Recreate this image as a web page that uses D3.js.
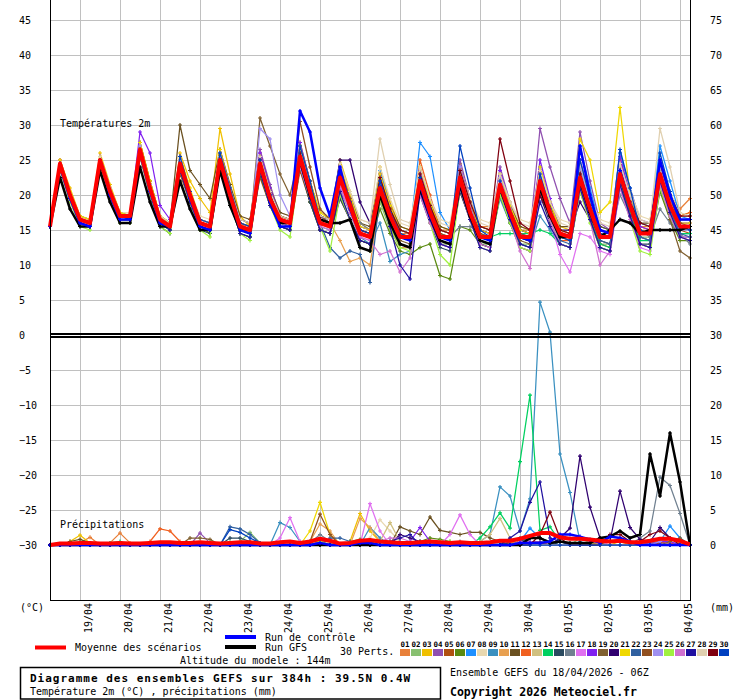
<!DOCTYPE html>
<html>
<head>
<meta charset="utf-8">
<script src="https://cdn.jsdelivr.net/npm/d3@7"></script>
<style>
body { margin: 0; background: #fff; }
svg text { font-family: "DejaVu Sans Mono", monospace; fill: #000; }
</style>
</head>
<body>
<div id="chart"></div>
<script>
// ---- tick labels ----
var dayLabels = ["19/04","20/04","21/04","22/04","23/04","24/04","25/04","26/04","27/04","28/04","29/04","30/04","01/05","02/05","03/05","04/05"];
var dayHours = [18,42,66,90,114,138,162,186,210,234,258,282,306,330,354,378];
var leftTicks = [45,40,35,30,25,20,15,10,5,0,-5,-10,-15,-20,-25,-30];
var tempGrid = [45,40,35,30,25,20,15,10,5];
var precipGrid = [-5,-10,-15,-20,-25,-30];
var rightTempTicks = [75,70,65,60,55,50,45,40,35];
var rightPrecipTicks = [30,25,20,15,10,5,0];
var memberNames = ["01","02","03","04","05","06","07","08","09","10","11","12","13","14","15","16","17","18","19","20","21","22","23","24","25","26","27","28","29","30"];
var memberColors = ["#e8803a","#88c070","#f0c000","#9050b0","#b05010","#5a8a10","#1e90ff","#e8d8b0","#3a90c0","#e8a050",
                    "#6a5020","#f06020","#d0c080","#00d060","#2a4a60","#708090","#e070f0","#8020f0","#806030","#300070",
                    "#f0d800","#3060a0","#905020","#a090f0","#a0f040","#d070d0","#2010a0","#e0d0b0","#800010","#0040c0"];
var stepHours = 6;

// ---- temperature 2m (°C), one value every 6h from 18/04 06Z ----
var tempMean = [15.5, 24.5,20,16.5,16, 25,20.5,17,17, 26.5,21,16.5,15.5, 24.5,20,16,15.5, 25,20,15.5,15, 24.5,19.5,16.5,16, 25.5,20.5,16,15.5, 22.5,18.5,14.5,14, 21,17,14,14, 22,17.5,14,14, 22.5,17.5,14,14, 21.5,17.5,14,14, 22,17.5,14.5,14, 22.5,18,14,14, 23,18.5,14.5,14.5, 23,18.5,15.5,15.5];
var tempGFS = [15.5, 22.5,18,15.5,15.5, 23.5,19,16,16, 24,19,15.5,15.5, 22,18,15,15, 23.5,18.5,15,15, 24,19,16,16, 25,20,16.5,16, 16,16.5,12.5,12, 20,16,13,12.5, 21,17,13.5,13, 21.5,17,13.5,13, 21,17,14,13.5, 21,17,14,14, 22,17.5,14,15, 16.5,16,14.5,15, 15,15,15,15.5];
var tempCtrl = [15.5, 24,19.5,16,15.5, 25,20,16.5,16.5, 26,20.5,16,15.5, 24.5,19.5,15.5,15, 25,20,15,14.5, 24,19,15.5,15.5, 32,29,21,17, 24,18,14.5,14, 21,17,14,13.5, 21.5,17,14,13.5, 22,17.5,14,13.5, 21.5,17,14,13.5, 22,17.5,14.5,14, 27,20,15,14.5, 23.5,18.5,14.5,14.5, 25,20,16.5,16.5];
var t01 = [15.5, 25,20.5,16.5,16, 25.5,21,17.5,17.5, 27,21.5,16.5,15.5, 25.5,20.5,16,15.5, 26.5,21,16,15.5, 23.5,19,16.5,16, 26.5,21.5,16.5,16, 24,19.5,14.5,14, 22,17.5,14.5,14.5, 24,19,15,15, 23.5,18.5,15.5,15.5, 22,18,15,15, 24,19,15,14.5, 25,19.5,14.5,14.5, 24.5,19.5,15.5,15.5, 24,20,18,19.5];
var t02 = [15.5, 24,19.5,16,15.5, 24.5,20,16.5,16.5, 26,20.5,16.5,15.5, 23.5,19,15.5,15, 24,19,15,14.5, 25,19.5,16,15.5, 26.5,21,16,15.5, 21,17.5,13.5,13, 19,15,12.5,12.5, 20.5,16.5,13,13, 21.5,16.5,13,13, 21,16.5,13,13, 22,17.5,14,13.5, 21.5,17,13,13, 21.5,17.5,14,14, 21.5,17.5,15,15];
var t03 = [15.5, 25,21,17,16.5, 26,21.5,17.5,17, 27.5,22,17,16, 26,22,19.5,17.5, 29.5,23,17,15.5, 26,21,17,16.5, 27.5,22,17,16, 25,20.5,16,15, 24,19,15.5,15, 23.5,19,15.5,15, 24.5,19.5,15.5,15, 23,19,15.5,15, 23,18.5,15.5,15, 24.5,19.5,15.5,15, 25,20,16,15.5, 24.5,20,17,17.5];
var t04 = [15.5, 24.5,20,16.5,16, 25.5,21,17,17, 27,21.5,16.5,16, 25,20.5,16.5,16, 26,21,16,15.5, 26.5,21.5,17,16.5, 27,22,17,16, 24,19.5,15,14.5, 23,18.5,15,14.5, 24,19,15,14.5, 25,19.5,15,14.5, 24,19,15,14.5, 29.5,24,19.5,16, 29,22,16,15, 26,21,16.5,16, 25,20.5,16.5,16.5];
var t05 = [15.5, 24,19.5,16,15.5, 24.5,20,16.5,16.5, 25.5,20.5,16,15, 23,19,15.5,15, 23.5,19,15,14.5, 22.5,18.5,15.5,15, 23.5,19,15,14.5, 19.5,16.5,13.5,13, 19.5,16,13,12.5, 21,16.5,13,12.5, 20.5,16.5,13,12.5, 20,16,12.5,12, 20.5,16.5,13,12.5, 21,17,13,12.5, 22.5,18,14,13.5, 22,18,15,14.5];
var t06 = [15.5, 24,19.5,16,15.5, 24.5,20,16.5,16.5, 26,20.5,16,15, 24,19.5,15.5,14.5, 24,19,14.5,14, 23,18.5,15.5,15, 24,19,15,14.5, 20,16.5,13.5,13, 18,14.5,12,11.5, 12.5,13,8.5,8, 15.5,15,13,12.5, 20,16.5,13,12.5, 21,16.5,13,12.5, 21,16.5,12.5,12, 21.5,17,13,12.5, 20.5,16.5,13.5,13.5];
var t07 = [15.5, 24.5,20,16.5,16, 25.5,21,17,17, 27,21.5,16.5,15.5, 25.5,20.5,16,15.5, 26,21,16,15.5, 25.5,20.5,17,16.5, 27,21.5,16.5,16, 24.5,20,15.5,15, 23.5,18.5,15,14.5, 27.5,25.5,17.5,15, 24,19,15,14.5, 23,18.5,15,14.5, 24,19,15,14.5, 27,21,15.5,15, 26,21,16,15.5, 27,22,17,16.5];
var t08 = [15.5, 24.5,20.5,17,16.5, 25,21,17.5,17.5, 26,21,17,16, 24.5,20.5,17,16.5, 25.5,21,16.5,16, 25.5,21,17.5,17, 26,21.5,17.5,17, 24,20.5,16.5,16, 24,19.5,16,15.5, 23.5,19.5,16.5,16, 24,19.5,16.5,16, 23,19,16.5,16, 23,19,16.5,16, 24,19.5,16.5,16, 25,20.5,17,16.5, 25,20.5,17,17];
var t09 = [15.5, 24.5,20,16.5,16, 25,20.5,17,16.5, 26,20.5,16,15, 24,19.5,15.5,15, 24.5,19.5,15,14.5, 23.5,18.5,15.5,15, 24.5,19.5,15.5,15, 21.5,17.5,14,13, 16,10.5,11.5,12, 20.5,16.5,13.5,13, 21.5,17,13.5,13, 19.5,16,13,12.5, 17,15,13,12.5, 21,17,13.5,13, 22.5,18,14,13.5, 23,18.5,14.5,14.5];
var t10 = [15.5, 24.5,20,16.5,16, 25,20.5,17,17, 27,21.5,17,16, 25,20.5,16,15.5, 25.5,20.5,16,15, 25,20,17,16.5, 26,21,16.5,16, 13.5,10.5,11,10, 19.5,15.5,12.5,12.5, 22.5,18,14.5,14, 24,19,15,14.5, 22.5,18,14.5,14, 23,18.5,15,14.5, 23.5,19,15,14.5, 24,19.5,15.5,15, 24.5,20,16.5,16.5];
var t11 = [15.5, 25,20.5,17,16.5, 25,21,17.5,17, 27.5,22,17,16, 30,23.5,21.5,19.5, 26.5,21.5,17,16.5, 26,21,17.5,17, 27,22,17,16.5, 24,20,16,15.5, 22.5,18.5,15.5,15, 23.5,19,15.5,15, 23,18.5,15.5,15, 22.5,18.5,15.5,15, 22.5,18.5,15.5,15.5, 23.5,19,15.5,15, 23.5,19.5,16,16, 24,19.5,16.5,16.5];
var t12 = [15.5, 24.5,20,16.5,16, 25.5,21,17,17, 26.5,21,16.5,15.5, 25.5,20.5,16,15.5, 25,20,15.5,15, 23.5,19,16,15.5, 25,20,16,15.5, 23.5,19,15,14.5, 22,17.5,14,13.5, 25,20,15,14.5, 22.5,18,14.5,14, 21,17,14,13.5, 20.5,16.5,13.5,13.5, 24,19,14.5,14, 25,20,15.5,15, 24.5,20,17,17.5];
var t13 = [15.5, 24.5,20.5,17,16.5, 25.5,21,17.5,17, 26.5,21,16.5,15.5, 24,19.5,16,15.5, 24.5,19.5,15.5,15, 25,20,16.5,16, 26.5,21,16.5,16, 22,18,15,14.5, 21.5,17.5,14.5,14, 21,17,14.5,14, 21.5,17.5,14.5,14, 20.5,17,14.5,14, 21.5,17.5,14.5,14, 22,18,14.5,14, 24,19,15,15, 23.5,19,15.5,15.5];
var t14 = [15.5, 24,19.5,16,15.5, 25,20.5,17,16.5, 26,20.5,16,15, 23.5,19,15.5,15, 24,19,15,14.5, 25,20,16,15.5, 25.5,20.5,16,15.5, 21,17.5,14.5,14, 20,16.5,14,13.5, 21.5,17,14,13.5, 21,17,14,14, 14.5,14.5,14.5,14.5, 15,14.5,13,12.5, 21,16.5,13,12.5, 22,17.5,13.5,13.5, 22,17.5,14.5,14.5];
var t15 = [15.5, 24,19.5,16,15.5, 24.5,20,16.5,16.5, 25.5,20,15.5,14.5, 23.5,19,15,14.5, 23.5,19,14.5,14, 23,18.5,15.5,15, 24,19,15,14.5, 19.5,16.5,13.5,13, 19.5,16,13,12.5, 20,16,12.5,12, 20.5,16.5,13,12.5, 20,16,12.5,12, 20,16,13,12.5, 20.5,16.5,12.5,12, 21.5,17,13,13, 21,17,14,14];
var t16 = [15.5, 24.5,20,16.5,16, 25,20.5,17,17, 26.5,21,16.5,15.5, 24,19.5,16,15.5, 24.5,20,16,15.5, 24,19.5,16.5,16, 24.5,20.5,17,16.5, 20,19,16,15, 21.5,17.5,15,14.5, 22,17.5,14.5,14, 15.5,15.5,14.5,14, 21,17,14,13.5, 22.5,18,14.5,14, 23,18.5,14.5,14, 20,17,15,14, 18,16,14.5,13];
var t17 = [15.5, 25,20.5,16.5,16, 25.5,21,17,17, 27,21.5,16.5,15.5, 25,20,16,15.5, 25.5,20.5,16,15.5, 26,20.5,16.5,16, 24,19.5,16,15.5, 21.5,17.5,14,13.5, 19.5,16,13,12.5, 20.5,16.5,13,12.5, 21,16.5,12.5,12, 20.5,16.5,12.5,12, 21,16.5,11.5,9, 14.5,14,12,11.5, 21,17,12.5,12, 22,17.5,14,14];
var t18 = [15.5, 24.5,20,16.5,16, 25.5,21,17,17, 29,26,18.5,16.5, 25.5,20.5,16,15.5, 25,20.5,16,15.5, 26,21,17,16.5, 27.5,22,17,16, 24.5,20,15.5,15, 23,18.5,15,14.5, 23.5,18.5,15,14.5, 24,19,15,14.5, 23.5,18.5,14.5,14, 25,19.5,15,14.5, 25,19.5,15,14.5, 25.5,20,15.5,15, 25,20,16,16];
var t19 = [15.5, 24.5,20,16.5,16, 25,20.5,17,17, 26,21,16.5,15.5, 24.5,20,16,15.5, 25.5,20.5,15.5,15, 31,27,23,20, 26,21,17,16, 22.5,18.5,15,14.5, 20,16.5,13.5,13, 21,16.5,13.5,13, 22,17.5,14,13.5, 21,17,13.5,13, 22,17.5,14,13.5, 21.5,17,13.5,13, 21.5,17,13,12.5, 21.5,16.5,12,11];
var t20 = [15.5, 24.5,20,16.5,16, 25,20.5,17,17, 26,21,16.5,15.5, 24.5,20,16.5,16, 25.5,21,16.5,16, 24,20,17,16.5, 26,21,17,16.5, 25,25,19,16, 21.5,18,15,14.5, 22,18,15,14.5, 22.5,18,15,14.5, 22,18,15,14.5, 20,16.5,15,15, 19,16.5,15,14.5, 22,18,15,14.5, 22,18,15.5,15];
var t21 = [15.5, 25,20.5,17,16.5, 25.5,21,17.5,17, 27.5,22,17,16, 25.5,21,16.5,16, 26.5,21,16,15.5, 25.5,20.5,17,16.5, 27,22,17.5,16.5, 24.5,20,15.5,15, 23,18.5,15,14.5, 24,19,15,14.5, 23.5,19,15,14.5, 23,18.5,15,14.5, 24,19,15,14.5, 28,25,17.5,19, 32.5,20,15,14.5, 24.5,20,16,16];
var t22 = [15.5, 24,19.5,16,15.5, 24.5,20,16.5,16.5, 26,20.5,16,15, 24,19.5,15.5,15, 24.5,19.5,15,14.5, 23.5,19,16,15.5, 24.5,20,16,12.5, 11,12,11.5,7.5, 20,16,13,12.5, 20.5,16.5,13,12.5, 21,17,13.5,13, 20.5,16.5,13,12.5, 21,17,13.5,13, 22,17.5,13.5,13, 22.5,18,14,13.5, 22.5,18,14.5,14];
var t23 = [15.5, 24.5,20,16.5,16, 25,20.5,17,17, 26.5,21,16.5,15.5, 25,20.5,16.5,16, 26,21,16,15.5, 25.5,20.5,17,16.5, 30.5,24,18,16.5, 23.5,19.5,15,14.5, 22,17.5,14.5,14, 22.5,18,14.5,14, 22.5,18,14.5,14, 22,18,14.5,14, 22.5,18,14.5,14, 23.5,19,14.5,14, 24,19.5,15,14.5, 24,19.5,16,15.5];
var t24 = [15.5, 24.5,20,16.5,16, 25,20.5,17,17, 27,21.5,16.5,15.5, 25,20.5,16,15.5, 25.5,20.5,15.5,15, 29.5,28,20,17, 25.5,20.5,16,15.5, 23,19,14.5,14, 22,17.5,14,13.5, 23,18,14,13.5, 24,18.5,14,13.5, 22.5,18,14,13.5, 23,18,14.5,14, 24,19,14.5,14, 24.5,19.5,14.5,14.5, 24,19,15,15];
var t25 = [15.5, 23.5,19,15.5,15, 24,19.5,16,16, 25.5,20,15.5,14.5, 23.5,19,15,14, 24,19,14.5,13.5, 23.5,18.5,15,14, 24.5,19.5,15.5,12, 20,16.5,12.5,12, 19.5,15.5,12.5,12, 21,16,11.5,10, 21,16.5,12.5,12, 20,16,12.5,12, 21,16.5,13,12.5, 20.5,16,12.5,12, 21.5,16.5,12,11.5, 21,17,14,13.5];
var t26 = [15.5, 24.5,20,16.5,16, 25,20.5,17,17, 26,20.5,16,15.5, 24.5,20,16,15.5, 24.5,19.5,15,14.5, 24,19,16,15.5, 25,20,15.5,15, 21,17.5,14,13.5, 11.5,12,9,11, 20,16,13,12.5, 21,16.5,13,12.5, 21,16.5,12,9.5, 20.5,16.5,13,12.5, 21,16.5,10,12, 21,16.5,13,12.5, 21.5,17,14,13.5];
var t27 = [15.5, 24,19.5,16,15.5, 25,20.5,17,16.5, 26,20.5,16,15, 23.5,19,15.5,15, 24,19,14.5,14, 23.5,18.5,15.5,15, 24.5,19.5,15,14.5, 20.5,16.5,13.5,13, 20,15.5,10,8, 20.5,16.5,13,12.5, 21,16.5,12.5,12, 21,16.5,13,12.5, 19,15.5,13,12.5, 21,16.5,12.5,12, 21.5,17,13,12.5, 22,17.5,14,13.5];
var t28 = [15.5, 24.5,20,16.5,16, 25.5,21,17,17, 26.5,21,17,16, 25,20.5,16.5,16, 26,21,16.5,16, 25.5,20.5,17,16.5, 26,21,17,16.5, 24.5,20.5,16.5,16, 28,21.5,16.5,16, 24,19.5,16,15.5, 23.5,19,16,15.5, 23,19,16,15.5, 23.5,19,16,15.5, 24.5,19.5,16,15.5, 24.5,20,16.5,16, 29.5,24,17.5,17];
var t29 = [15.5, 24.5,20,16.5,16, 25,20.5,17,17, 26.5,21,16.5,15.5, 24,19.5,16,15.5, 24.5,19.5,15.5,15, 25,20,16.5,16, 26,21,16.5,16, 23,19,15,14.5, 22.5,18,15,14.5, 23,18.5,15,14.5, 23.5,19,15.5,15, 28,22,16,15, 20,17,15,14.5, 23,18.5,15,14.5, 23.5,19,16,15.5, 24.5,20,17,17];
var t30 = [15.5, 24.5,20,16.5,16, 25,20.5,17,17, 26.5,21,16.5,15.5, 25.5,20.5,16.5,16, 26,21,16,15.5, 25,20,16.5,16, 27,22,16.5,16, 23.5,19,15,14.5, 22,17.5,14.5,14, 22.5,18,14,13.5, 27,21,15,14, 22,17.5,14,13.5, 23,18,14,13.5, 25,19.5,14.5,14, 26.5,21,15,14.5, 26,20.5,15.5,15];
var tempMembers = [t01,t02,t03,t04,t05,t06,t07,t08,t09,t10,t11,t12,t13,t14,t15,t16,t17,t18,t19,t20,t21,t22,t23,t24,t25,t26,t27,t28,t29,t30];

// ---- precipitation (mm / 6h) ----
var precipMean = [0, .2,.2,.3,.3, .2,.2,.3,.2, .2,.3,.4,.4, .3,.3,.4,.3, .2,.3,.4,.4, .2,.2,.4,.5, .3,.5,.9,.6, .2,.3,.6,.7, .5,.4,.3,.3, .4,.5,.4,.3, .4,.3,.3,.4, .6,.6,.9,1.3, 1.7,1.7,1.1,.9, .9,.8,.6,.5, .6,.4,.4,.6, .9,.9,.6,.1];
var precipGFS = [0, 0,0,0,0, 0,0,0,0, 0,0,0,0, 0,0,0,0, 0,0,0,0, 0,0,0,0, 0,0,0,0, 0,0,0,0, 0,0,0,0, 0,0,0,0, 0,0,0,0, 0,0,0,1, 1,0.3,0.5,0.3, 0.3,0.3,1,1.2, 2,1,1.5,13, 7,16,9,0];
var precipCtrl = [0, 0,0,0,0, 0,0,0,0, 0,0,0,0, 0,0,0,0, 0,0,0,0, 0,0,0,0, 0,0,0.3,0, 0,0,0.3,0.3, 0,0,0,0, 0,0,0,0, 0,0,0,0, 0,0,0.3,0.3, 0.3,0.5,1.5,1.5, 1.2,0.8,0.3,1.2, 1,0.5,0,0, 0,0,0,0];
var p01 = [0, 0,0,0.3,1.1, 0,0.3,1.7,0.3, 0,0,0,0, 0,0,0,0, 0,0,0.3,0, 0,0,0,0, 0,0.5,0.8,0.3, 0,0,0.5,0.3, 0,0,0,0, 0,0,0,0, 0,0,0,0, 0,0.3,0.5,0.3, 0.5,0,0,0, 0,0.3,0,0, 0,0,0.5,0, 0.5,0.8,0.3,0];
var p02 = [0, 0,0,0,0, 0,0,0,0, 0,0,0,0, 0,0,0,0, 0,0.5,0.5,1.8, 0.3,0,0,0, 0,0,0,0, 0,0,0,0, 0,0,0,0, 0,0,0,0, 0.3,0,0,0, 0,0,0.3,0.5, 0.5,0.3,0,0, 1,0.3,0,0, 0,0,0,0, 0.3,0.5,0,0];
var p03 = [0, 0,0.5,1.4,0.3, 0,0,0,0, 0,0,0,0, 0,0,0,0, 0,0,0,0, 0,0,0,0, 0,0.3,0.8,0, 0,0.5,4.5,2, 0.5,0,0,0, 0,0,0,0, 0,0,0,0, 0,0,0.5,0.3, 0.3,0,0,0, 0,0,0,0, 0.5,0,0,0, 0.8,0.3,0,0];
var p04 = [0, 0,0,0,0, 0,0,0,0, 0,0,0,0, 0,0,1.7,0.3, 0,0,0,0, 0,0,0,0, 0,0,0.5,0, 0,0,0,0, 0,0,0,0, 0,0,0,0, 0,0,0,0, 0,0,0,0.5, 0.5,0,0,0, 0,0,0,0, 0,0,0,0.3, 0.5,0.3,0,0];
var p05 = [0, 0,0,0,0, 0,0,0,0, 0,0,0,0, 0,0,0,0, 0,0,0,0, 0,0,0,0, 0,0,0.3,0.3, 0,0,0,0, 0,0,0,0, 0,0,0,0, 0,0,0,0, 0,0,0.3,0.3, 0.3,0,0,0, 0,0.3,0.3,0, 0,0,0,0, 0.3,0.3,0,0];
var p06 = [0, 0,0,0,0, 0,0,0,0, 0,0,0,0, 0,0,0,0, 0,0,0,0, 0,0,0,0, 0,0,0.5,0.3, 0,0.5,0.8,0.5, 0,0,0,0, 0.5,1,0.8,0.5, 0.3,0,0,0, 0,0,0,0, 0,0,0,0, 0,0,0,0, 0,0,0,0, 0,0,0,0];
var p07 = [0, 0,0,0,0, 0,0,0,0, 0,0,0,0, 0,0,0,0, 0,0,0,0, 0,0,0,0, 0,0,0,0, 0,0,0,0, 0,0,0,0, 0,0,0,0, 0,0,0,0, 0,0,0.5,2.4, 1,0.5,0,0, 0,0,0,0, 0,0,0,0, 0.5,2.7,1,0];
var p08 = [0, 0,0,0,0, 0,0,0,0, 0,0,0,0, 0,0,0,0, 0,0,0,0, 0,0,0,0, 0,0,0.5,0.3, 0,0,0.5,1, 3.6,2,0.5,0, 0,0,0,0, 0,0,0,0, 0,0,0,0, 0,0,0,0, 0,0,0,0, 0,0,0,0, 0,0,0,0];
var p09 = [0, 0,0,0,0, 0,0,0,0, 0,0,0,0, 0,0,0,0, 0,0,0,0, 0,0,3.2,2.5, 0.5,0,0,0, 0,0,0,2.5, 1,0,0,0, 0,0,0,0, 0,0,0.5,1.5, 8.3,7,2,6.6, 34.7,30.4,13,7.5, 0.5,0,0,0, 0,0,0,0, 0,0,0,0];
var p10 = [0, 0,0,0,0, 0,0,0,0, 0,0,0,0, 0,0,0,0, 0,0,0,0, 0,0,0,0, 0,0.5,3,2, 0,0,3.8,2.5, 0.5,0,0,0, 0,0,0,0, 0,0,0,0, 0,0,0,0, 0,0,0,0, 0,0,0,0, 0,0,0,0, 0,0.3,0,0];
var p11 = [0, 0,0.5,0.8,0.3, 0,0,0,0, 0,0,0,0, 0,0,0,0, 0,0,0,0, 0,0,0,0, 0,0,0.5,0, 0,0,0,0, 0,0,2.6,2, 1.5,4,2.1,1.8, 1.5,1.8,1.8,1, 0.5,0,0,0, 0,0,0,0, 0,0,0,0, 0,0,0,0, 0,0,0,0];
var p12 = [0, 0,0,0,0, 0,0,0,0, 0,0.5,2.3,2, 0.5,0,0,0, 0,0,0,0, 0,0,0,0, 0,0,0,0, 0,0,0,0, 0,0,0,0, 0,0,0,0, 0,0,0,0, 0,0,0,0, 0,0,0,0, 0.3,0,0,0, 0,0,0,0, 0.5,0.3,0,0];
var p13 = [0, 0,0,0,0, 0,0,0,0, 0,0,0,0, 0,0,0,0, 0,0,0,0, 0,0,0,0, 0,0,0,0, 0,0,0,0, 0.5,3.2,0.5,0, 0,0,0,0, 0,0,0.5,1.5, 3.8,1,0,0, 0,0,0,0, 0,0,0,0, 0,0,0,0, 0,0,0,0];
var p14 = [0, 0,0,0,0, 0,0.3,0.5,0, 0,0,0,0, 0,0,0,0, 0,0,0,0, 0,0,0,0, 0,0,0,0, 0,0,0,0, 0,0,0,0, 0,0,0,0, 0,0,1,2.6, 4.6,2.4,11.9,21.4, 2.1,2.6,0.5,0, 0,0,0,0, 0,0,0,0, 0,0,0,0];
var p15 = [0, 0,0,0,0, 0,0,0,0, 0,0,0,0, 0,0,0,0, 0,1,1,0.5, 0,0,0,0, 0,0,0,0, 0,0,0,0, 0,0,0,0, 0,0,0,0, 0,0,0,0, 0,0,0.5,1, 1,0.5,0,0, 0,0,0,0, 0,0,0,0, 0,0,0,0];
var p16 = [0, 0,0,0,0, 0,0,0,0, 0,0,0,0, 0,0,0,0, 0,0,0,0, 0,0,0,0, 0,0.3,1.5,0.5, 0,0,0,0, 0,0,0,0, 0,0,0,0, 0.5,0,0,0, 0,0,0,0, 0,0,0,0, 0,0,0,0, 0,0,1,2, 9.7,8.5,4.5,0];
var p17 = [0, 0,0,0,0, 0,0,0,0, 0,0,0,0, 0,0,0,0, 0,0,0,0, 0,0,1,3.9, 0.5,0,0,0, 0,0,0,5.9, 2,0,0,0, 0,0,0,1.5, 4.3,1.5,0,0, 0,0,0,0, 0,0,0,0, 0,0,0,0, 0,0,0,0, 0,0.5,0,0];
var p18 = [0, 0,0,0,0, 0,0,0,0, 0,0,0,0, 0,0,0,0, 0,0,0,0, 0,0,0,0, 0,0,0.5,0, 0,0,0,0, 0,0,0.5,0.5, 2.5,0.5,0,0, 0,0,0,0, 0,0,0,0, 0,0,0,0, 0,0,0,0, 0,0,0,0, 0.5,0.5,0,0];
var p19 = [0, 0,0,0,0, 0,0,0,0, 0,0,0,0, 0,1,1,0.8, 0,0,0,0, 0,0,0,0, 0,0,0,0, 0,0,0,0, 0,0,0,0, 0,0,0,0, 0,0,0,0, 0,0,0,0, 0,0,0,0, 0,0,0,0, 0,0,0,0, 0,0.5,1,0];
var p20 = [0, 0,0,0,0, 0,0,0,0, 0,0,0,0, 0,0,0,0, 0,0,0,0, 0,0,0,0, 0,0,0,0, 0,0,0,0, 0,0,1.5,1, 0.5,0,0,0, 0,0,0,0, 0,0,0,0, 0,0,1,2.4, 12.7,5.4,1,0.5, 7.7,2.5,0.8,0.5, 2.5,1,0.5,0];
var p21 = [0, 0,0,0,0, 0,0,0,0, 0,0,0,0, 0,0,0,0, 0,0,0,0, 0,0,0,0, 0,2,6.1,1.5, 0,0,0,0, 0,0,0,0, 0,0,0,0, 0,0,0,0, 0,0,0,0, 0,0,0,0, 0,0,0,0, 0,0,0,0, 0,0,0,0];
var p22 = [0, 0,0,0,0, 0,0,0,0, 0,0,0,0, 0,0,0,0, 0,2.6,2.3,1.5, 0.3,0,0,0, 0,0,0,1, 1,0.5,0,0, 0,0,0,0, 0,0,0,0, 0,0,0,0, 0,0.5,1,0.5, 0,0,0,0, 0,0,0,0, 0,0,0,0, 0,0,0,0];
var p23 = [0, 0,0,0,0, 0,0,0,0, 0,0,0,0, 0,0,0,0, 0,0,0,0, 0,0,0,0, 0,0.5,4.4,1.5, 0,0,0,0, 0,0,0,0, 0,0,0,0, 0,0,0,0, 0,0,0,0, 0,0,0,0, 0,0,0,0, 0,0,0,0, 0,0,0,0];
var p24 = [0, 0,0,0,0, 0,0,0,0, 0,0,0,0, 0,0,0,0, 0,0,0,0, 0,0,0,0, 0,0,0,0, 0,0,0,0, 0,0,0,0, 0,0,0,0, 0,0,0,0, 0,0,0,0, 0,0,0,0, 0,0,0,0, 0,0,0,0, 0.5,1,0.5,0];
var p25 = [0, 0,0,0,0, 0,0,0,0, 0,0,0,0, 0,0,0,0, 0,0,0,0, 0,0,0,0, 0,0.5,0.5,0, 0,0,0,0, 0,0,0,0, 0,0,0.5,0.5, 0,0,0,0, 0,0,0,0, 0,0,0,0, 0,0,0,0, 0,0,0,0, 0,0,0,0];
var p26 = [0, 0,0,0,0, 0,0,0,0, 0,0,0,0, 0,0,0,0, 0,0,0,0, 0,0,0,0, 0,0,0,0, 0,0,0,0, 0.5,1,1,0.5, 0,0,0,0, 0,0,0,0, 0,0,0.5,0.5, 0,0,0,0, 0,0.5,0.5,0, 0,0,0,0, 0,0,0,0];
var p27 = [0, 0,0,0,0, 0,0,0,0, 0,0,0,0, 0,0,0,0, 0,0,0,0, 0,0,0,0, 0,0,0,0, 0,0,0,0, 0.5,0.5,1,1.5, 0,0,0,0, 0,0,0,0, 0,1,2,6.1, 9,1,0.5,0, 0,0,0,0, 0,0,0,0, 0,0,0,0];
var p28 = [0, 0,0,0,0, 0,0,0,0, 0,0,0,0, 0,0,0,0, 0,0,0,0, 0,0,0,0, 0,0,0,0, 0,0,0,0, 0,0,0,0, 0,0,0,0, 0,0,0,0, 0,0,0,0, 0,0,0,0, 0,0,0,0, 0,0,0,0, 0,0,0,0];
var p29 = [0, 0,0,0,0, 0,0,0,0, 0,0,0,0, 0,0,0,0, 0,0,0,0, 0,0,0,0, 0,0,0,0, 0,0,0,0, 0,0,0,0, 0,0,0,0, 0,0,0,0, 0,0,0,0, 1.5,4.7,1,0, 0,0,0,1.5, 1.5,0.5,0.5,1.5, 2,1,0,0];
var p30 = [0, 0,0,0,0, 0,0,0,0, 0,0,0,0, 0,0,0,0, 0,2.2,1.8,1, 0.3,0,0,0, 0,0,0,0, 0,0,0,0, 0,0,0,0, 0,0,0,0, 0,0,0,0, 0,0,0,0, 0,0,0,0, 0,0,0,0, 0,0,0,0, 0,0,0,0];
var precipMembers = [p01,p02,p03,p04,p05,p06,p07,p08,p09,p10,p11,p12,p13,p14,p15,p16,p17,p18,p19,p20,p21,p22,p23,p24,p25,p26,p27,p28,p29,p30];

createGraph();

function createGraph() {
    var width = 740, height = 700;
    var left = 50, right = 690, top = 0, bottom = 600;

    var x = d3.scaleLinear().domain([0, 384]).range([left, right]);
    var yT = d3.scaleLinear().domain([-30, 45]).range([545, 20]);      // left axis, °C
    var yR = d3.scaleLinear().domain([0, 75]).range([545, 20]);        // right axis, upper panel
    var yP = d3.scaleLinear().domain([0, 30]).range([545, 335]);       // right axis, mm

    var svg = d3.select("#chart").append("svg")
        .attr("width", width)
        .attr("height", height)
        .style("display", "block");

    // grid
    var grid = svg.append("g")
        .attr("stroke", "#c0c0c0")
        .attr("stroke-width", 1)
        .attr("shape-rendering", "crispEdges");
    grid.selectAll(".v").data(dayHours).enter().append("line")
        .attr("x1", function(d) { return x(d) + 0.5; })
        .attr("x2", function(d) { return x(d) + 0.5; })
        .attr("y1", top).attr("y2", bottom);
    grid.selectAll(".ht").data(tempGrid.concat(precipGrid)).enter().append("line")
        .attr("x1", left).attr("x2", right)
        .attr("y1", function(d) { return yT(d) + 0.5; })
        .attr("y2", function(d) { return yT(d) + 0.5; });

    var hourOf = function(i) { return i * stepHours; };

    function crosses(values, y, s) {
        return values.map(function(v, i) {
            var px = x(hourOf(i)), py = y(v);
            return "M" + (px - s) + "," + py + "h" + (2 * s) + "M" + px + "," + (py - s) + "v" + (2 * s);
        }).join("");
    }

    function drawSeries(g, values, y, color, w, marker) {
        var line = d3.line()
            .x(function(d, i) { return x(hourOf(i)); })
            .y(function(d) { return y(d); });
        g.append("path")
            .datum(values)
            .attr("d", line)
            .attr("fill", "none")
            .attr("stroke", color)
            .attr("stroke-width", w)
            .attr("stroke-linejoin", "round");
        if (marker) {
            g.append("path")
                .attr("d", crosses(values, y, 2))
                .attr("fill", "none")
                .attr("stroke", color)
                .attr("stroke-width", 1.2);
        }
    }

    // temperatures
    var gt = svg.append("g");
    tempMembers.forEach(function(s, k) { drawSeries(gt, s, yT, memberColors[k], 1.25, true); });
    drawSeries(gt, tempGFS, yT, "#000", 2.5, true);
    drawSeries(gt, tempCtrl, yT, "#0000ff", 2.5, true);
    drawSeries(gt, tempMean, yT, "#ff0000", 4, false);

    // precipitations
    var gp = svg.append("g");
    precipMembers.forEach(function(s, k) { drawSeries(gp, s, yP, memberColors[k], 1.25, true); });
    drawSeries(gp, precipGFS, yP, "#000", 2.5, true);
    drawSeries(gp, precipCtrl, yP, "#0000ff", 2.5, true);
    drawSeries(gp, precipMean, yP, "#ff0000", 4, false);

    // frame
    var frame = svg.append("g").attr("stroke", "#000").attr("shape-rendering", "crispEdges");
    frame.append("line").attr("x1", left + 0.5).attr("x2", left + 0.5).attr("y1", top).attr("y2", bottom + 1).attr("stroke-width", 1.5);
    frame.append("line").attr("x1", right + 0.5).attr("x2", right + 0.5).attr("y1", top).attr("y2", bottom + 1).attr("stroke-width", 1.5);
    frame.append("line").attr("x1", left).attr("x2", right + 1).attr("y1", bottom + 0.5).attr("y2", bottom + 0.5).attr("stroke-width", 1.5);
    frame.append("line").attr("x1", left).attr("x2", right).attr("y1", yT(0) - 1).attr("y2", yT(0) - 1).attr("stroke-width", 1.5);
    frame.append("line").attr("x1", left).attr("x2", right).attr("y1", yT(0) + 2).attr("y2", yT(0) + 2).attr("stroke-width", 1.5);

    // left axis labels
    var la = svg.append("g").attr("transform", "translate(19,0)")
        .call(d3.axisLeft(yT).tickValues(leftTicks).tickSize(0).tickFormat(d3.format("d")));
    la.select(".domain").remove();
    la.selectAll("text")
        .attr("x", 0).attr("dy", "0.35em")
        .style("text-anchor", "start")
        .style("font-family", "DejaVu Sans Mono")
        .style("font-size", "10px");

    // right axis labels
    var ra = svg.append("g").attr("transform", "translate(710,0)")
        .call(d3.axisRight(yR).tickValues(rightTempTicks).tickSize(0).tickFormat(d3.format("d")));
    var rp = svg.append("g").attr("transform", "translate(710,0)")
        .call(d3.axisRight(yP).tickValues(rightPrecipTicks).tickSize(0).tickFormat(d3.format("d")));
    [ra, rp].forEach(function(a) {
        a.select(".domain").remove();
        a.selectAll("text")
            .attr("x", 0).attr("dy", "0.35em")
            .style("text-anchor", "start")
            .style("font-family", "DejaVu Sans Mono")
            .style("font-size", "10px");
    });

    // date labels
    svg.selectAll(".day").data(dayLabels).enter().append("text")
        .attr("transform", function(d, i) { return "translate(" + (x(dayHours[i]) + 12) + ",603) rotate(-90)"; })
        .attr("text-anchor", "end")
        .style("font-size", "10px")
        .text(function(d) { return d; });

    svg.append("text").attr("x", 20).attr("y", 611).style("font-size", "10px").text("(°C)");
    svg.append("text").attr("x", 710).attr("y", 611).style("font-size", "10px").text("(mm)");
    svg.append("text").attr("x", 60).attr("y", 127).style("font-size", "10px").text("Températures 2m");
    svg.append("text").attr("x", 60).attr("y", 528).style("font-size", "10px").text("Précipitations");

    // legend
    var lg = svg.append("g");
    lg.append("line").attr("x1", 35).attr("x2", 66).attr("y1", 647.5).attr("y2", 647.5).attr("stroke", "#ff0000").attr("stroke-width", 4);
    lg.append("text").attr("x", 75).attr("y", 651).style("font-size", "10px").text("Moyenne des scénarios");
    lg.append("line").attr("x1", 225).attr("x2", 256).attr("y1", 637).attr("y2", 637).attr("stroke", "#0000ff").attr("stroke-width", 4);
    lg.append("text").attr("x", 265).attr("y", 641).style("font-size", "10px").text("Run de contrôle");
    lg.append("line").attr("x1", 225).attr("x2", 256).attr("y1", 647).attr("y2", 647).attr("stroke", "#000").attr("stroke-width", 4);
    lg.append("text").attr("x", 265).attr("y", 651).style("font-size", "10px").text("Run GFS");
    lg.append("text").attr("x", 340).attr("y", 655).style("font-size", "10px").text("30 Perts.");
    lg.selectAll(".sw").data(memberColors).enter().append("rect")
        .attr("x", function(d, i) { return 400 + 11 * i; })
        .attr("y", 649).attr("width", 10).attr("height", 7)
        .attr("fill", function(d) { return d; });
    lg.selectAll(".nm").data(memberNames).enter().append("text")
        .attr("x", function(d, i) { return 405 + 11 * i; })
        .attr("y", 647)
        .attr("text-anchor", "middle")
        .style("font-size", "7.5px").style("font-weight", "bold")
        .text(function(d) { return d; });
    svg.append("text").attr("x", 180).attr("y", 664).style("font-size", "10px").text("Altitude du modele : 144m");

    // title box
    svg.append("rect").attr("x", 20.5).attr("y", 667.5).attr("width", 420).attr("height", 31.5)
        .attr("fill", "none").attr("stroke", "#000").attr("stroke-width", 1.5);
    svg.append("text").attr("x", 30).attr("y", 682).style("font-size", "11px").style("font-weight", "bold")
        .style("letter-spacing", "1px")
        .text("Diagramme des ensembles GEFS sur 384h : 39.5N 0.4W");
    svg.append("text").attr("x", 30).attr("y", 695).style("font-size", "10px")
        .text("Température 2m (°C) , précipitations (mm)");
    svg.append("text").attr("x", 450).attr("y", 676).style("font-size", "10px")
        .text("Ensemble GEFS du 18/04/2026 - 06Z");
    svg.append("text").attr("x", 450).attr("y", 696).style("font-size", "11.5px").style("font-weight", "bold")
        .text("Copyright 2026 Meteociel.fr");
}
</script>
</body>
</html>
